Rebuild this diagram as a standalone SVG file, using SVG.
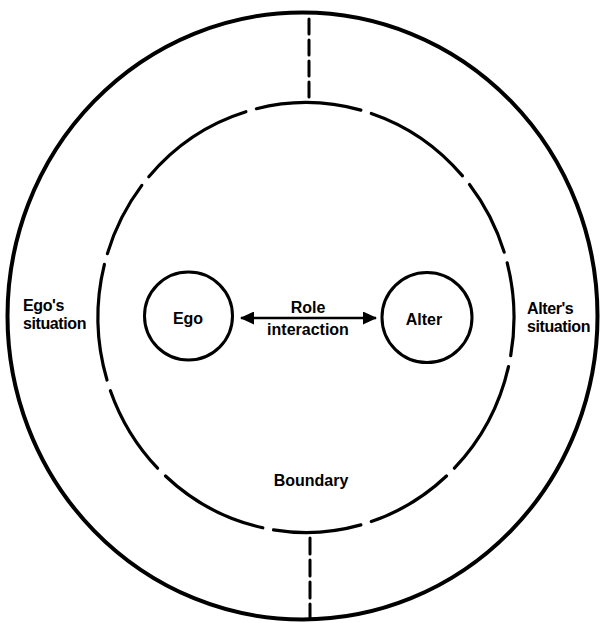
<svg xmlns="http://www.w3.org/2000/svg" width="602" height="623" viewBox="0 0 602 623">
<defs>
<style>
.ln{fill:none;stroke:#000;stroke-linecap:round}
.txt{font-family:"Liberation Sans",Arial,Helvetica,sans-serif;font-weight:bold;font-size:16px;fill:#000}
.mid{text-anchor:middle}
.side{letter-spacing:-0.4px}
</style>
<marker id="ah" viewBox="0 0 14 13" markerUnits="userSpaceOnUse" markerWidth="14" markerHeight="13" refX="13" refY="6.5" orient="auto-start-reverse">
<path d="M0,0 L14,6.5 L0,13 z" fill="#000"/>
</marker>
</defs>
<rect width="602" height="623" fill="#fff"/>
<g id="situation">
<ellipse class="ln" cx="302.5" cy="316" rx="295" ry="303.5" stroke-width="4"/>
<line class="ln" x1="309" y1="19" x2="309" y2="98" stroke-width="3" stroke-dasharray="15 6" stroke-linecap="butt"/>
<line class="ln" x1="310" y1="538" x2="310" y2="619" stroke-width="3" stroke-dasharray="16 6" stroke-linecap="butt"/>
</g>
<g id="boundary" class="ln" stroke-width="3.2">
<path d="M107.4,253.6 A208,215 0 0 1 141.8,185.4"/>
<path d="M148.8,176.7 A208,215 0 0 1 245.9,111.7"/>
<path d="M256.4,108.7 A208,215 0 0 1 360.9,110.1"/>
<path d="M371.3,113.4 A208,215 0 0 1 462.5,175.9"/>
<path d="M469.5,184.5 A208,215 0 0 1 504.2,252.1"/>
<path d="M507.2,262.9 A208,215 0 0 1 510.7,355.6"/>
<path d="M508.5,366.6 A208,215 0 0 1 454.4,468.2"/>
<path d="M446.5,476.0 A208,215 0 0 1 371.3,521.6"/>
<path d="M360.9,524.9 A208,215 0 0 1 273.5,529.9"/>
<path d="M262.8,527.8 A208,215 0 0 1 165.5,476.0"/>
<path d="M157.6,468.2 A208,215 0 0 1 110.4,390.7"/>
<path d="M107.0,380.0 A208,215 0 0 1 104.4,264.4"/>
</g>
<g id="ego">
<circle class="ln" cx="188.5" cy="316" r="44" stroke-width="3"/>
<text class="txt mid" x="188" y="324">Ego</text>
</g>
<g id="alter">
<circle class="ln" cx="427" cy="317.5" r="45" stroke-width="3"/>
<text class="txt mid" x="424" y="325">Alter</text>
</g>
<g id="connectors">
<line x1="241" y1="318" x2="376" y2="318" stroke="#000" stroke-width="2.6" marker-start="url(#ah)" marker-end="url(#ah)"/>
</g>
<g id="labels">
<text class="txt mid" x="308" y="313">Role</text>
<text class="txt mid" x="308" y="335">interaction</text>
<text class="txt side" x="23" y="311">Ego's</text>
<text class="txt side" x="23" y="329">situation</text>
<text class="txt side" x="527" y="314">Alter's</text>
<text class="txt side" x="527" y="332">situation</text>
<text class="txt mid" x="311" y="486">Boundary</text>
</g>
</svg>
